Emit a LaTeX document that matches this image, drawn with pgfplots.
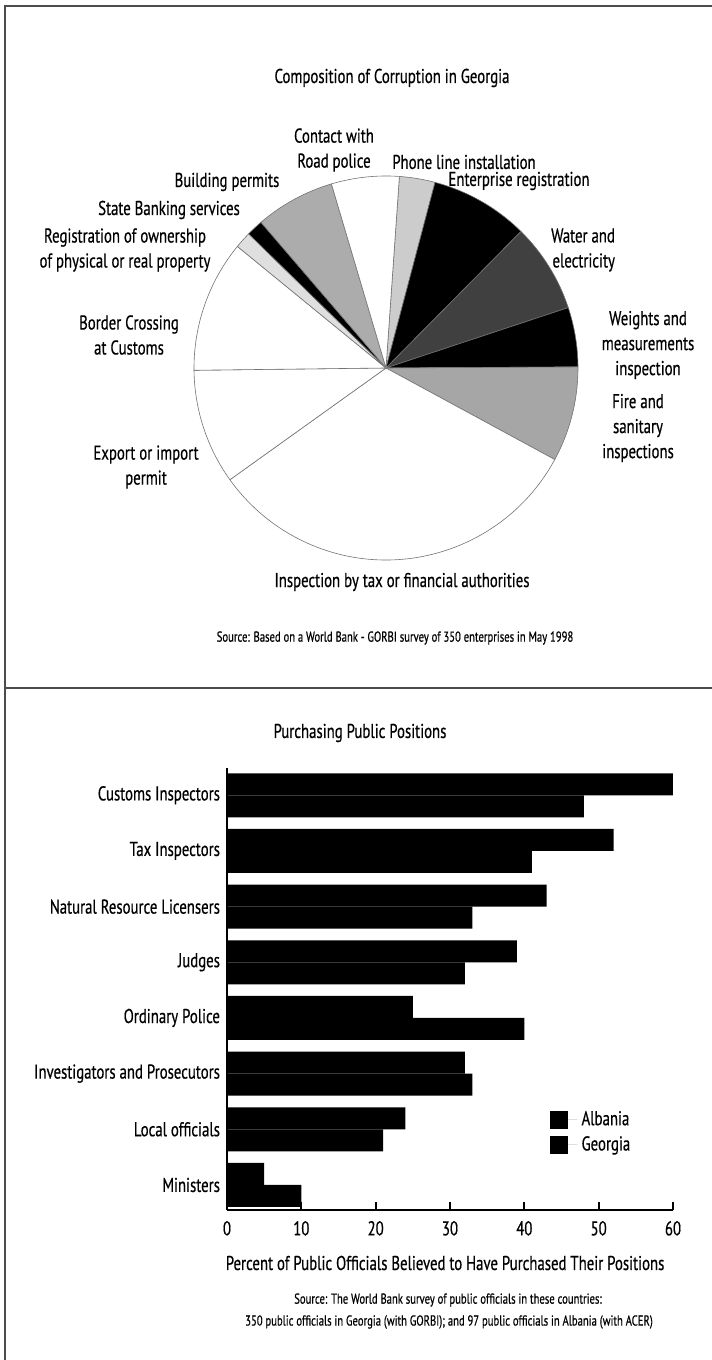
\documentclass[border=0pt]{standalone}
\usepackage{fontspec}
\setmainfont{PT Sans}[FakeStretch=0.74, FakeBold=0.5]
\usepackage{pgfplots}
\usepackage{pgfplotstable}
\pgfplotsset{compat=1.18}

% shares of the pie (percent), clockwise from 86 degrees
\pgfplotstableread{
share fill
3.0  gray!40
8.3  black
7.5  black!75
5.0  black
8.0  gray!70
32.2 white
9.7  white
11.1 white
1.4  gray!25
1.4  black
6.7  gray!65
5.7  white
}\pietable

\newcommand\lab{\fontsize{10}{12.5}\selectfont}
\newcommand\src{\fontsize{7.2}{9.5}\selectfont}

\begin{document}
\begin{tikzpicture}
\path[use as bounding box] (0,0) rectangle (356pt,680pt);

% frames
\draw[black!70, line width=0.9pt] (2.5pt,0) -- (2.5pt,677pt) -- (356pt,677pt);
\draw[black!70, line width=0.9pt] (2.5pt,336pt) -- (356pt,336pt);

% ---------------- pie ----------------
\begin{axis}[at={(193pt,496pt)}, anchor=center,
    x=96pt, y=96pt, xmin=-1, xmax=1, ymin=-1, ymax=1,
    hide axis, clip=false]
  \pgfplotstablegetrowsof{\pietable}
  \pgfmathtruncatemacro\lastrow{\pgfplotsretval-1}
  \gdef\angA{86}
  \pgfplotsforeachungrouped \i in {0,...,\lastrow}{%
    \pgfplotstablegetelem{\i}{share}\of\pietable
    \pgfmathsetmacro\angB{\angA-3.6*\pgfplotsretval}%
    \pgfplotstablegetelem{\i}{fill}\of\pietable
    \edef\pieWedge{\noexpand\filldraw[fill=\pgfplotsretval, draw=black!55, line width=0.3pt]
      (axis cs:0,0) -- ++(\angA:96pt) arc[start angle=\angA, end angle=\angB, radius=96pt] -- cycle;}%
    \pieWedge
    \xdef\angA{\angB}%
  }
\end{axis}

\node[font=\lab] at (196pt,641pt) {Composition of Corruption in Georgia};
\node[font=\lab, align=center] at (167pt,605pt) {Contact with\\Road police};
\node[font=\lab] at (232pt,599pt) {Phone line installation};
\node[font=\lab] at (259.5pt,589.5pt) {Enterprise registration};
\node[font=\lab] at (113.5pt,589pt) {Building permits};
\node[font=\lab] at (84.5pt,575pt) {State Banking services};
\node[font=\lab, align=center] at (62.5pt,555pt) {Registration of ownership\\of physical or real property};
\node[font=\lab, align=right, anchor=east] at (311pt,555pt) {Water and\\electricity};
\node[font=\lab, align=center] at (324pt,507.5pt) {Weights and\\measurements\\inspection};
\node[font=\lab, align=center] at (319pt,466pt) {Fire and\\sanitary\\inspections};
\node[font=\lab, align=center] at (64.5pt,512.5pt) {Border Crossing\\at Customs};
\node[font=\lab, align=center] at (73pt,446.5pt) {Export or import\\permit};
\node[font=\lab] at (201pt,389pt) {Inspection by tax or financial authorities};
\node[font=\src] at (197.5pt,361pt) {Source: Based on a World Bank - GORBI survey of 350 enterprises in May 1998};

% ---------------- bars ----------------
\node[font=\lab] at (180pt,313.5pt) {Purchasing Public Positions};

\begin{axis}[at={(113.5pt,75pt)}, anchor=south west,
    scale only axis, width=223pt, height=221pt,
    xbar, bar width=11pt,
    xmin=0, xmax=60, ymin=-0.45, ymax=7.49,
    axis x line*=bottom, axis y line*=left,
    x axis line style={line width=1.2pt, -},
    y axis line style={line width=0.8pt, -},
    xtick={0,10,...,60}, tick align=inside, major tick length=4pt,
    xtick style={line width=1pt, black},
    ytick={0,...,7}, ytick style={draw=none},
    yticklabels={Ministers,Local officials,Investigators and Prosecutors,Ordinary Police,Judges,Natural Resource Licensers,Tax Inspectors,Customs Inspectors},
    /pgf/number format/assume math mode=true,
    ticklabel style={font=\lab},
    xticklabel style={yshift=-2pt},
    xlabel={Percent of Public Officials Believed to Have Purchased Their Positions},
    xlabel style={font=\lab, at={(axis description cs:0.489,0)}, anchor=center, yshift=-26.5pt},
    legend style={at={(0.709,0.243)}, anchor=north west, draw=none, fill=none,
      font=\lab, row sep=0pt},
    legend cell align=left,
    legend image code/.code={\fill[black] (0pt,-4.5pt) rectangle (9pt,4.5pt);
      \path (0pt,0pt) -- (14pt,0pt);},
  ]
  \addplot[fill=black, draw=none, bar shift=5.5pt] coordinates {
    (60,7) (52,6) (43,5) (39,4) (25,3) (32,2) (24,1) (5,0)};
  \addplot[fill=black, draw=none, bar shift=-5.5pt] coordinates {
    (48,7) (41,6) (33,5) (32,4) (40,3) (33,2) (21,1) (10,0)};
  \legend{Albania,Georgia}
\end{axis}

\node[font=\src] at (224pt,30pt) {Source: The World Bank survey of public officials in these countries:};
\node[font=\src] at (224.5pt,19pt) {350 public officials in Georgia (with GORBI); and 97 public officials in Albania (with ACER)};
\end{tikzpicture}
\end{document}
